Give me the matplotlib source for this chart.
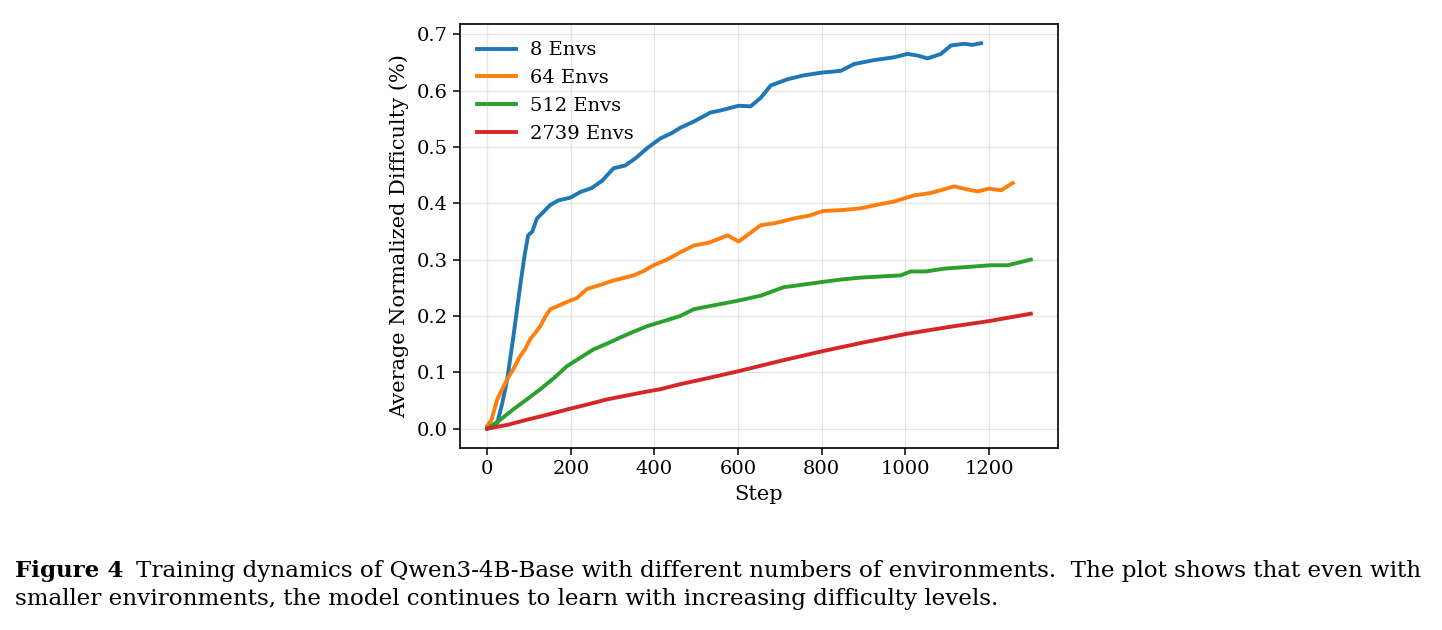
import matplotlib
matplotlib.use("Agg")
import matplotlib.pyplot as plt

# values
steps_8 = [0, 15, 24, 36, 48, 62, 79, 90, 98, 108, 119, 135, 151, 170, 199, 223, 250, 275,
           302, 330, 355, 383, 414, 440, 462, 494, 534, 560, 601, 630, 654, 678, 718, 757,
           802, 846, 877, 925, 973, 1005, 1030, 1053, 1085, 1109, 1141, 1160, 1181]
diff_8 = [0.0, 0.003, 0.01, 0.045, 0.088, 0.16, 0.254, 0.31, 0.343, 0.35, 0.373, 0.385, 0.397,
          0.405, 0.41, 0.42, 0.427, 0.44, 0.462, 0.467, 0.48, 0.498, 0.515, 0.524, 0.534, 0.545,
          0.561, 0.565, 0.573, 0.572, 0.587, 0.609, 0.62, 0.627, 0.632, 0.635, 0.647, 0.654,
          0.659, 0.665, 0.662, 0.657, 0.665, 0.68, 0.683, 0.681, 0.684]

steps_64 = [0, 10, 24, 36, 48, 62, 79, 90, 103, 115, 127, 140, 151, 170, 191, 215, 239, 270,
            302, 330, 350, 375, 398, 430, 462, 494, 530, 575, 601, 625, 654, 690, 733, 770,
            802, 850, 893, 930, 973, 1021, 1060, 1117, 1145, 1173, 1200, 1229, 1257]
diff_64 = [0.005, 0.015, 0.052, 0.07, 0.088, 0.105, 0.129, 0.14, 0.159, 0.17, 0.182, 0.2, 0.212,
           0.218, 0.225, 0.232, 0.248, 0.255, 0.263, 0.268, 0.272, 0.28, 0.29, 0.3, 0.313, 0.325,
           0.33, 0.343, 0.332, 0.345, 0.361, 0.365, 0.373, 0.378, 0.386, 0.388, 0.391, 0.397, 0.403,
           0.414, 0.418, 0.43, 0.425, 0.421, 0.426, 0.423, 0.436]

steps_512 = [0, 30, 62, 95, 127, 160, 191, 225, 255, 290, 319, 350, 383, 414, 462, 494, 550,
             599, 654, 709, 750, 798, 850, 893, 940, 989, 1013, 1050, 1093, 1150, 1205, 1245, 1300]
diff_512 = [0.0, 0.015, 0.034, 0.052, 0.07, 0.09, 0.111, 0.127, 0.141, 0.152, 0.162, 0.172,
            0.182, 0.189, 0.2, 0.212, 0.22, 0.227, 0.236, 0.251, 0.255, 0.26, 0.265, 0.268,
            0.27, 0.272, 0.279, 0.279, 0.284, 0.287, 0.29, 0.29, 0.3]

steps_2739 = [0, 50, 96, 140, 191, 240, 287, 335, 383, 414, 462, 530, 601, 700, 802, 900,
              1001, 1100, 1201, 1300]
diff_2739 = [0.0, 0.007, 0.016, 0.024, 0.034, 0.043, 0.052, 0.059, 0.066, 0.07, 0.079, 0.09,
             0.102, 0.12, 0.1375, 0.153, 0.168, 0.18, 0.191, 0.204]

labels = ["8 Envs", "64 Envs", "512 Envs", "2739 Envs"]
colors = ["#1f77b4", "#ff7f0e", "#2ca02c", "#d62728"]

caption_head = "Figure 4"
caption_line1 = ("Training dynamics of Qwen3-4B-Base with different numbers of environments.  "
                 "The plot shows that even with")
caption_line2 = "smaller environments, the model continues to learn with increasing difficulty levels."

plt.rcParams["font.family"] = "DejaVu Serif"

fig = plt.figure(figsize=(14.42, 6.30), dpi=100)
ax = fig.add_axes([0.319, 0.289, 0.4147, 0.673])

series = [(steps_8, diff_8), (steps_64, diff_64), (steps_512, diff_512), (steps_2739, diff_2739)]
for (xs, ys), lab, col in zip(series, labels, colors):
    ax.plot(xs, ys, color=col, linewidth=2.8, label=lab)

ax.set_xticks([0, 200, 400, 600, 800, 1000, 1200])
ax.set_yticks([0.0, 0.1, 0.2, 0.3, 0.4, 0.5, 0.6, 0.7])
ax.tick_params(labelsize=14, length=5, width=1.1)
for s in ax.spines.values():
    s.set_linewidth(1.2)
ax.set_xlabel("Step", fontsize=15, labelpad=5)
ax.set_ylabel("Average Normalized Difficulty (%)", fontsize=15, labelpad=6)
ax.grid(True, color="#cccccc", alpha=0.5, linewidth=0.9)
ax.set_axisbelow(True)
ax.legend(loc="upper left", frameon=False, fontsize=14, handlelength=2.0,
          handletextpad=0.7, borderaxespad=0.5)

# caption, sized so the first line spans the page width
fs = 15
t1 = fig.text(15 / 1442, 1 - 577 / 630, caption_head, fontsize=fs, fontweight="bold",
              va="baseline")
t2 = fig.text(0.5, 1 - 577 / 630, caption_line1, fontsize=fs, va="baseline")
t3 = fig.text(15 / 1442, 1 - 605 / 630, caption_line2, fontsize=fs, va="baseline")
fig.canvas.draw()
w_total = t1.get_window_extent().width + 12 + t2.get_window_extent().width
fs = fs * 1410 / w_total
for t in (t1, t2, t3):
    t.set_fontsize(fs)
fig.canvas.draw()
t2.set_x((t1.get_window_extent().x1 + 12) / fig.bbox.width)

fig.savefig("out.png", dpi=100)
